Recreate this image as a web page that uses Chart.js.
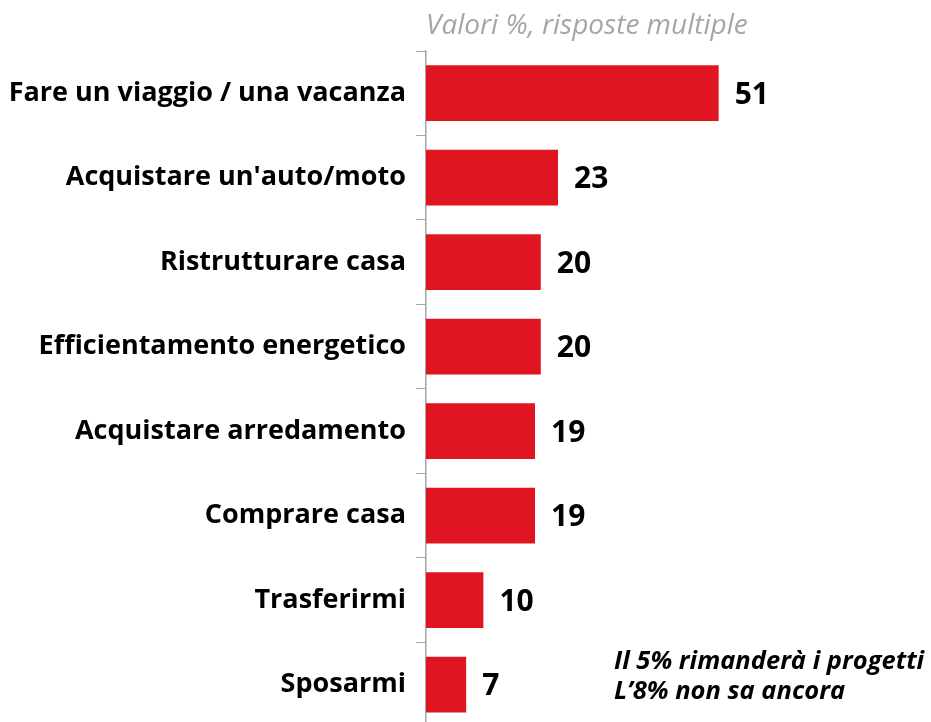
<!DOCTYPE html>
<html>
<head>
<meta charset="utf-8">
<script src="https://cdn.jsdelivr.net/npm/chart.js@4/dist/chart.umd.min.js"></script>
<style>
  html, body { margin: 0; padding: 0; background: #fff; overflow: hidden; }
</style>
</head>
<body>
<canvas id="projectsChart" width="931" height="753"></canvas>
<script>
const categories = [
  'Fare un viaggio / una vacanza',
  "Acquistare un'auto/moto",
  'Ristrutturare casa',
  'Efficientamento energetico',
  'Acquistare arredamento',
  'Comprare casa',
  'Trasferirmi',
  'Sposarmi'
];
const values = [51, 23, 20, 20, 19, 19, 10, 7];
const subtitleText = 'Valori %, risposte multiple';
const noteLines = ['Il 5% rimanderà i progetti', 'L\u20198% non sa ancora'];

const barColor = '#df1621';
const axisGray = '#a6a6a6';

// value labels right of each bar + subtitle + footnote
const extrasPlugin = {
  id: 'extras',
  afterDatasetsDraw(chart) {
    const ctx = chart.ctx;
    const meta = chart.getDatasetMeta(0);
    ctx.save();
    ctx.fillStyle = '#000';
    ctx.font = 'bold 30px "Open Sans"';
    ctx.textAlign = 'left';
    ctx.textBaseline = 'middle';
    meta.data.forEach((bar, i) => {
      ctx.fillText(String(values[i]), bar.x + 16, bar.y + 2);
    });

    const area = chart.chartArea;
    ctx.fillStyle = '#a6a6a6';
    ctx.font = 'italic 28px "Open Sans"';
    ctx.textBaseline = 'alphabetic';
    ctx.fillText(subtitleText, area.left, 34);

    ctx.fillStyle = '#000';
    ctx.font = 'bold italic 25.5px "Open Sans"';
    ctx.fillText(noteLines[0], 614, 669);
    ctx.fillText(noteLines[1], 614, 699);
    ctx.restore();
  }
};

const ctx = document.getElementById('projectsChart').getContext('2d');
new Chart(ctx, {
  type: 'bar',
  data: {
    labels: categories,
    datasets: [{
      data: values,
      backgroundColor: barColor,
      borderWidth: 0,
      barPercentage: 0.66,
      categoryPercentage: 1
    }]
  },
  options: {
    indexAxis: 'y',
    responsive: false,
    animation: false,
    layout: {
      padding: { top: 51, bottom: 12, left: 0, right: 0 }
    },
    plugins: {
      legend: { display: false },
      tooltip: { enabled: false }
    },
    scales: {
      x: {
        display: false,
        min: 0,
        max: 88
      },
      y: {
        afterFit(scale) { scale.width = 426; },
        border: { display: true, color: axisGray, width: 1.5 },
        grid: {
          offset: true,
          drawOnChartArea: false,
          drawTicks: true,
          tickLength: 10,
          color: axisGray
        },
        ticks: {
          color: '#000',
          padding: 10,
          font: { family: 'Open Sans', size: 27, weight: 'bold' }
        }
      }
    }
  },
  plugins: [extrasPlugin]
});
</script>
</body>
</html>
